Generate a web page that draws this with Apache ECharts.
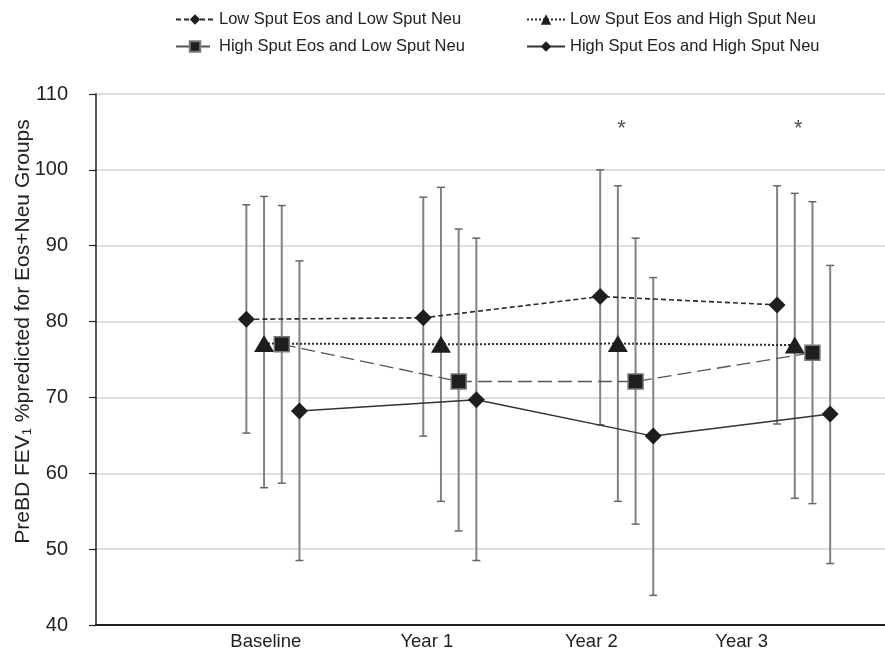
<!DOCTYPE html>
<html>
<head>
<meta charset="utf-8">
<script src="https://cdn.jsdelivr.net/npm/echarts@6/dist/echarts.min.js"></script>
<style>
  html, body { margin: 0; padding: 0; background: #fff; }
  #main { width: 885px; height: 653px; }
</style>
</head>
<body>
<div id="main"></div>
<script>
// categories and where their labels sit on the x scale
var categories = ['Baseline', 'Year 1', 'Year 2', 'Year 3'];
var labelPos = [-0.04, 0.87, 1.8, 2.65];

var groupNames = [
  'Low Sput Eos and Low Sput Neu',
  'Low Sput Eos and High Sput Neu',
  'High Sput Eos and Low Sput Neu',
  'High Sput Eos and High Sput Neu'
];

// means, lower and upper error bar ends per group
var llMean = [80.3, 80.5, 83.3, 82.2];
var llLow = [65.3, 64.9, 66.4, 66.5];
var llHigh = [95.4, 96.4, 100.0, 97.9];

var lhMean = [77.1, 77.0, 77.1, 76.9];
var lhLow = [58.1, 56.3, 56.3, 56.7];
var lhHigh = [96.5, 97.7, 97.9, 96.9];

var hlMean = [77.0, 72.1, 72.1, 75.9];
var hlLow = [58.7, 52.4, 53.3, 56.0];
var hlHigh = [95.3, 92.2, 91.0, 95.8];

var hhMean = [68.2, 69.7, 64.9, 67.8];
var hhLow = [48.5, 48.5, 43.9, 48.1];
var hhHigh = [88.0, 91.0, 85.8, 87.4];

// significance marks (category index, value)
var sigCats = [2, 3];
var sigValue = [105.4, 105.4];

var offsets = [-0.15, -0.05, 0.05, 0.15];
var font = "'Liberation Sans', Arial, Helvetica, sans-serif";

var chart = echarts.init(document.getElementById('main'));

function pts(mean, g) {
  return mean.map(function (v, i) { return [i + offsets[g], v]; });
}
function bars(low, high, g) {
  return low.map(function (v, i) { return [i + offsets[g], v, high[i]]; });
}

// error bar with caps
function renderBar(params, api) {
  var x = api.value(0);
  var top = api.coord([x, api.value(2)]);
  var bot = api.coord([x, api.value(1)]);
  var cw = 4;
  return {
    type: 'group',
    children: [
      { type: 'line', shape: { x1: top[0], y1: top[1], x2: bot[0], y2: bot[1] },
        style: { stroke: '#828282', lineWidth: 2 } },
      { type: 'line', shape: { x1: top[0] - cw, y1: top[1], x2: top[0] + cw, y2: top[1] },
        style: { stroke: '#666', lineWidth: 1.5 } },
      { type: 'line', shape: { x1: bot[0] - cw, y1: bot[1], x2: bot[0] + cw, y2: bot[1] },
        style: { stroke: '#666', lineWidth: 1.5 } }
    ]
  };
}

function barSeries(low, high, g) {
  return {
    type: 'custom',
    renderItem: renderBar,
    data: bars(low, high, g),
    encode: { x: 0, y: [1, 2] },
    z: 1,
    silent: true
  };
}

var lineSeries = [
  {
    name: groupNames[0], type: 'line', data: pts(llMean, 0),
    symbol: 'diamond', symbolSize: 17,
    itemStyle: { color: '#1e1e1e' },
    lineStyle: { color: '#2a2a2a', width: 1.6, type: [5, 3] }
  },
  {
    name: groupNames[1], type: 'line', data: pts(lhMean, 1),
    symbol: 'triangle', symbolSize: [20, 17],
    itemStyle: { color: '#1e1e1e' },
    lineStyle: { color: '#2a2a2a', width: 2, type: [2, 2] }
  },
  {
    name: groupNames[2], type: 'line', data: pts(hlMean, 2),
    symbol: 'rect', symbolSize: 15,
    itemStyle: { color: '#1e1e1e', borderColor: '#777', borderWidth: 1.5 },
    lineStyle: { color: '#555', width: 1.3, type: [14, 6] }
  },
  {
    name: groupNames[3], type: 'line', data: pts(hhMean, 3),
    symbol: 'diamond', symbolSize: 17,
    itemStyle: { color: '#1e1e1e' },
    lineStyle: { color: '#333', width: 1.5, type: 'solid' }
  }
];
lineSeries.forEach(function (s) { s.z = 3; s.silent = true; });

var option = {
  backgroundColor: '#ffffff',
  animation: false,
  textStyle: { fontFamily: font },
  legend: [
    {
      orient: 'vertical', left: 170, top: 6, itemGap: 10,
      itemWidth: 38, itemHeight: 13, selectedMode: false,
      data: [groupNames[0], groupNames[2]],
      textStyle: { fontSize: 16.5, color: '#222', fontFamily: font }
    },
    {
      orient: 'vertical', left: 521, top: 6, itemGap: 10,
      itemWidth: 38, itemHeight: 13, selectedMode: false,
      data: [groupNames[1], groupNames[3]],
      textStyle: { fontSize: 16.5, color: '#222', fontFamily: font }
    }
  ],
  grid: { left: 96, right: 0, top: 94, bottom: 28, containLabel: false, outerBoundsMode: 'none' },
  xAxis: {
    type: 'value',
    min: -1, max: 3.46,
    axisLine: { show: true, onZero: false, lineStyle: { color: '#222', width: 2 } },
    axisTick: { show: false },
    splitLine: { show: false },
    axisLabel: {
      customValues: labelPos,
      margin: 7,
      fontSize: 18.5, color: '#222', fontFamily: font,
      formatter: function (v) {
        var i = labelPos.indexOf(v);
        return i >= 0 ? categories[i] : '';
      }
    }
  },
  yAxis: {
    type: 'value',
    min: 40, max: 110, interval: 10,
    name: '{a|PreBD FEV}{s|1}{a| %predicted for Eos+Neu Groups}',
    nameLocation: 'middle',
    nameGap: 62,
    nameMoveOverlap: false,
    nameTextStyle: {
      padding: [0, 0, 0, 56],
      rich: {
        a: { fontSize: 21, color: '#222', fontFamily: font },
        s: { fontSize: 13, color: '#222', fontFamily: font, padding: [9, 0, 0, 0] }
      }
    },
    axisLine: { show: true, onZero: false, lineStyle: { color: '#222', width: 1.5 } },
    axisTick: { show: true, length: 7, lineStyle: { color: '#222', width: 1.2 } },
    axisLabel: { fontSize: 20, color: '#222', margin: 28, fontFamily: font },
    splitLine: { show: true, lineStyle: { color: '#d2d2d2', width: 1.5 } }
  },
  series: [
    barSeries(llLow, llHigh, 0),
    barSeries(lhLow, lhHigh, 1),
    barSeries(hlLow, hlHigh, 2),
    barSeries(hhLow, hhHigh, 3)
  ].concat(lineSeries).concat([
    {
      type: 'scatter',
      data: sigCats.map(function (c, i) { return [c - 0.03, sigValue[i]]; }),
      symbolSize: 1,
      itemStyle: { color: 'rgba(0,0,0,0)' },
      label: {
        show: true, position: 'inside', formatter: '*',
        fontSize: 22, color: '#222', fontFamily: font
      },
      silent: true,
      z: 4
    }
  ])
};

chart.setOption(option);
</script>
</body>
</html>
